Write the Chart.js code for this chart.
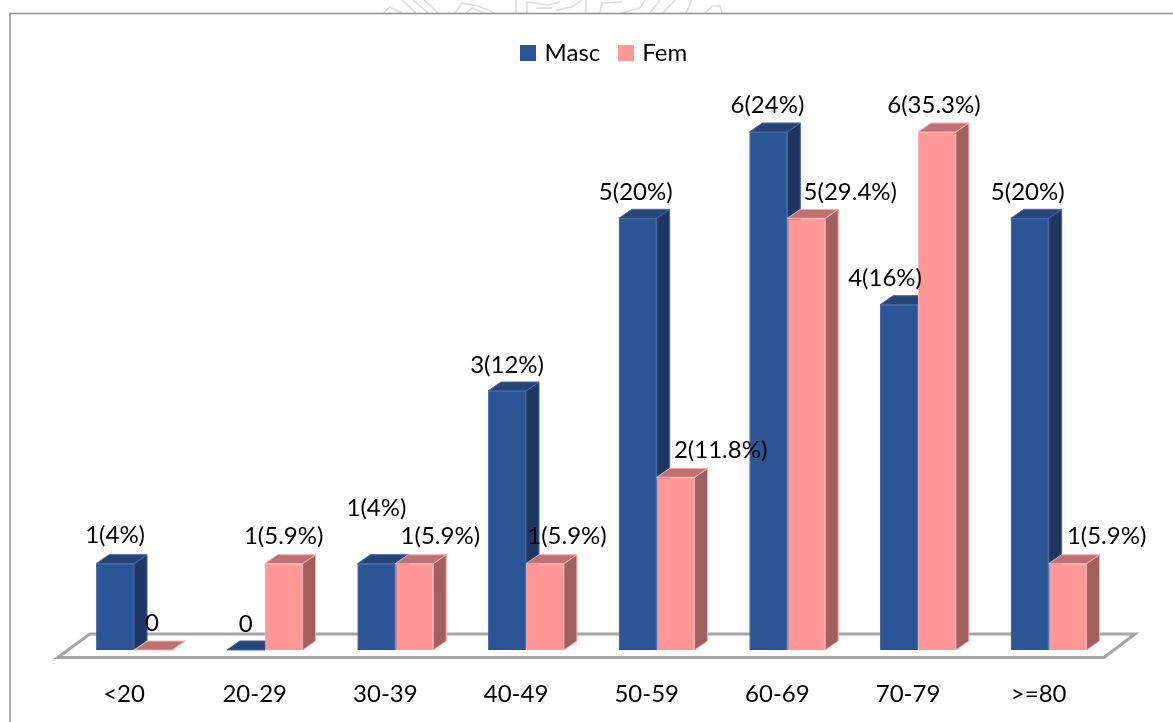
<!DOCTYPE html>
<html>
<head>
<meta charset="utf-8">
<style>html,body{margin:0;padding:0;background:#fff;overflow:hidden}canvas{display:block}</style>
<script src="https://cdn.jsdelivr.net/npm/chart.js@4/dist/chart.umd.min.js"></script>
</head>
<body>
<canvas id="c" width="1173" height="722"></canvas>
<script>
const categories = ['<20','20-29','30-39','40-49','50-59','60-69','70-79','>=80'];
const mascCounts = [1,0,1,3,5,6,4,5];
const femCounts  = [0,1,1,1,2,5,6,1];
const mascLabels = ['1(4%)','0','1(4%)','3(12%)','5(20%)','6(24%)','4(16%)','5(20%)'];
const femLabels  = ['0','1(5.9%)','1(5.9%)','1(5.9%)','2(11.8%)','5(29.4%)','6(35.3%)','1(5.9%)'];
const mascLabelShift = [[0,-28],[0,-26],[0,-55],[0,-26],[-2,-26],[-1,-27],[-14,-26],[-2,-26]];
const femLabelShift  = [[-1,-27],[0,-27],[26,-27],[22,-27],[45,-27],[44,-26],[-3,-27],[39,-27]];

const FONT = 'Lato, Carlito, sans-serif';
const DX = 13, DY = 9;
const palette = {
  Masc: {front:'#2c5596', border:'#4468a4', top:'#254478', side:'#1f3661'},
  Fem:  {front:'#ff9797', border:'#ffb0b0', top:'#bf7171', side:'#9f6060'}
};
function swatch(color){
  const s = document.createElement('canvas'); s.width = 16; s.height = 16;
  const g = s.getContext('2d'); g.fillStyle = color; g.fillRect(0,0,16,16);
  return s;
}
function poly(ctx, pts, fill, stroke){
  ctx.beginPath();
  pts.forEach((p,i)=> i?ctx.lineTo(p[0],p[1]):ctx.moveTo(p[0],p[1]));
  ctx.closePath();
  ctx.fillStyle = fill; ctx.fill();
  if(stroke){ctx.strokeStyle = stroke; ctx.lineWidth = 1; ctx.stroke();}
}
function drawBar3D(ctx, el, pal){
  const p = el.getProps(['x','y','base','width'], true);
  const l = p.x - p.width/2, r = p.x + p.width/2, t = p.y, b = p.base;
  poly(ctx, [[r,t],[r+DX,t-DY],[r+DX,b-DY],[r,b]], pal.side, pal.border);
  poly(ctx, [[l,t],[l+DX,t-DY],[r+DX,t-DY],[r,t]], pal.top, pal.border);
  el.draw(ctx);
}
// Faint scanned page watermark showing above the chart frame.
function drawWatermark(ctx){
  ctx.strokeStyle = '#dcdcdc'; ctx.lineWidth = 1.5;
  const strokes = [
    [[383,13],[390,7],[402,13]], [[402,0],[416,13]], [[413,0],[428,13]], [[424,0],[438,13]],
    [[455,13],[462,3],[478,6],[495,13]], [[466,13],[472,8],[484,13]],
    [[516,13],[516,0]], [[527,13],[527,2],[548,5],[560,2]], [[536,8],[552,8]],
    [[556,10],[572,7],[582,0]], [[586,13],[586,0]], [[600,13],[602,3],[622,2]],
    [[622,13],[640,8],[645,0]], [[650,13],[660,0]], [[663,13],[675,0]], [[686,13],[692,0]],
    [[705,13],[712,6],[720,6],[722,13]]
  ];
  strokes.forEach(s=>{
    ctx.beginPath();
    s.forEach((p,i)=> i?ctx.lineTo(p[0],p[1]):ctx.moveTo(p[0],p[1]));
    ctx.stroke();
  });
}
const scene3D = {
  id:'scene3D',
  afterLayout(chart){
    chart.legend.left += 14; chart.legend.right += 14;
  },
  beforeDraw(chart){
    const ctx = chart.ctx;
    ctx.save();
    ctx.fillStyle = '#fff'; ctx.fillRect(0,0,chart.width,chart.height);
    drawWatermark(ctx);
    ctx.strokeStyle = '#8f8f8f'; ctx.lineWidth = 1.5;
    ctx.beginPath(); ctx.moveTo(10,chart.height); ctx.lineTo(10,13.5); ctx.lineTo(chart.width,13.5); ctx.stroke();
    ctx.restore();
  },
  beforeDatasetsDraw(chart){
    const ctx = chart.ctx, a = chart.chartArea;
    ctx.save();
    ctx.beginPath();
    ctx.moveTo(a.left-11, a.bottom+7.5);
    ctx.lineTo(a.right-10, a.bottom+7.5);
    ctx.lineTo(a.right+21, a.bottom-16);
    ctx.lineTo(a.left+21, a.bottom-16);
    ctx.closePath();
    ctx.fillStyle = '#fff'; ctx.fill();
    ctx.strokeStyle = '#a6a6a6'; ctx.lineWidth = 3; ctx.stroke();
    ctx.restore();
  },
  afterDatasetsDraw(chart){
    const ctx = chart.ctx;
    ctx.save();
    // Both series are repainted so the Fem block sits in front of the Masc side face.
    [0,1].forEach(i=>{
      const ds = chart.data.datasets[i], pal = palette[ds.label];
      chart.getDatasetMeta(i).data.forEach(el=>drawBar3D(ctx, el, pal));
    });
    ctx.fillStyle = '#000';
    ctx.font = '24px ' + FONT;
    ctx.textAlign = 'center'; ctx.textBaseline = 'middle';
    [[0,mascLabels,mascLabelShift],[1,femLabels,femLabelShift]].forEach(([i,txt,shift])=>{
      chart.getDatasetMeta(i).data.forEach((el,k)=>{
        const p = el.getProps(['x','y'], true);
        ctx.fillText(txt[k], p.x + shift[k][0], p.y + shift[k][1]);
      });
    });
    ctx.restore();
  }
};
new Chart(document.getElementById('c'), {
  type:'bar',
  data:{
    labels:categories,
    datasets:[
      {label:'Masc', data:mascCounts, backgroundColor:palette.Masc.front, borderColor:palette.Masc.border, borderWidth:1},
      {label:'Fem',  data:femCounts,  backgroundColor:palette.Fem.front,  borderColor:palette.Fem.border,  borderWidth:1}
    ]
  },
  options:{
    responsive:false, animation:false, devicePixelRatio:1,
    layout:{padding:{left:68.7,right:59,top:20,bottom:0}},
    datasets:{bar:{categoryPercentage:0.58,barPercentage:1}},
    plugins:{
      tooltip:{enabled:false},
      legend:{
        position:'top',
        labels:{
          font:{family:FONT,size:24}, color:'#000',
          usePointStyle:true, pointStyleWidth:9, padding:21,
          generateLabels(chart){
            return chart.data.datasets.map((d,i)=>({
              text:d.label, datasetIndex:i, fontColor:'#000',
              pointStyle:swatch(palette[d.label].front),
              fillStyle:palette[d.label].front, strokeStyle:palette[d.label].front, lineWidth:0
            }));
          }
        }
      }
    },
    scales:{
      x:{
        grid:{display:false,drawTicks:false}, border:{display:false},
        ticks:{font:{family:FONT,size:24},color:'#000',padding:30,labelOffset:-10,maxRotation:0,autoSkip:false},
        afterFit(s){s.height = 72;}
      },
      y:{display:false,min:0,max:6.66}
    }
  },
  plugins:[scene3D]
});
</script>
</body>
</html>
